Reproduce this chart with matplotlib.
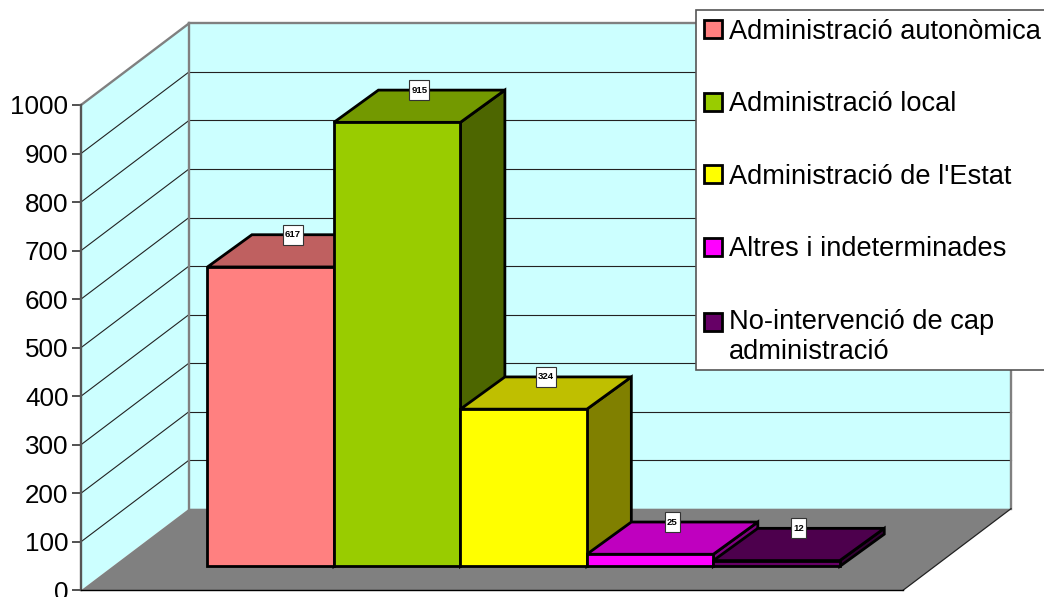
import matplotlib
matplotlib.use("Agg")
import matplotlib.pyplot as plt
from matplotlib.patches import Patch, Rectangle
from matplotlib.legend_handler import HandlerPatch
from matplotlib.path import Path

plt.rcParams['font.family'] = ['Liberation Sans', 'DejaVu Sans']

# ---- data ----
series = ["Administració autonòmica", "Administració local", "Administració de l'Estat",
          "Altres i indeterminades", "No-intervenció de cap\nadministració"]
values = [617, 915, 324, 25, 12]
front_colors = ['#FF8080', '#99CC00', '#FFFF00', '#FF00FF', '#660066']
top_colors = ['#BF6060', '#739900', '#BFBF00', '#BF00BF', '#4D004D']
side_colors = ['#804040', '#4D6600', '#808000', '#800080', '#330033']
yticks = list(range(0, 1001, 100))

# ---- layout (pixels of the 1044x597 picture) ----
W, H = 1044, 597
fig = plt.figure(figsize=(W / 100, H / 100), dpi=100, facecolor='white')
left, right, top, bottom = 81, 903, 105, 590.3
ax = fig.add_axes([left / W, 1 - bottom / H, (right - left) / W, (bottom - top) / H])
ax.patch.set_visible(False)

gap = 0.75
n = len(values)
ax.set_xlim(-gap, n + gap)
ax.set_ylim(0, 1000)
px_x = (right - left) / (n + 2 * gap)
px_y = (bottom - top) / 1000

# oblique projection: depth 0 = front of floor, depth 1 = back wall
DX = 108 / px_x
DY = 81.6 / px_y
D0, D1 = 0.293, 0.688
BAR_SKEW = 1.8 / px_x  # bar tops lean slightly further right than the walls


def P(x, y, d=0.0):
    return (x + d * DX, y + d * DY)


def PB(x, y, d):
    """Point on a bar: d is D0 (front) or D1 (back)."""
    sx = BAR_SKEW if d == D1 else 0
    return (x + d * DX + sx, y + d * DY)


def poly(points, fc, ec='none', lw=0, z=1):
    xs, ys = zip(*points)
    ax.fill(xs, ys, facecolor=fc, edgecolor=ec, linewidth=lw, zorder=z,
            clip_on=False, joinstyle='miter')


def line(p, q, c, lw, z=2):
    ax.plot([p[0], q[0]], [p[1], q[1]], color=c, lw=lw, zorder=z, clip_on=False,
            solid_capstyle='projecting')


xa, xb = -gap, n + gap
WALL = '#CCFFFF'
EDGE = '#808080'
GRID = '#222222'

# walls and floor
poly([P(xa, 0, 0), P(xa, 0, 1), P(xa, 1000, 1), P(xa, 1000, 0)], WALL, z=1)
poly([P(xa, 0, 1), P(xb, 0, 1), P(xb, 1000, 1), P(xa, 1000, 1)], WALL, z=1)
poly([P(xa, 0, 0), P(xb, 0, 0), P(xb, 0, 1), P(xa, 0, 1)], '#808080', z=1)

# gridlines
for v in yticks[1:-1]:
    line(P(xa, v, 0), P(xa, v, 1), GRID, 0.8)
    line(P(xa, v, 1), P(xb, v, 1), GRID, 0.8)

# wall outlines
line(P(xa, 1000, 0), P(xa, 1000, 1), EDGE, 1.7, 3)
line(P(xa, 1000, 1), P(xb, 1000, 1), EDGE, 1.7, 3)
line(P(xa, 0, 1), P(xa, 1000, 1), EDGE, 1.7, 3)
line(P(xb, 0, 1), P(xb, 1000, 1), EDGE, 1.7, 3)
line(P(xb, 0, 0), P(xb, 0, 1), '#222222', 0.9, 3)


# data label box: fixed 20 px tall, text centred
def label_box(x0, y0, width, height, mutation_size):
    cy = y0 + height / 2
    cx = x0 + width / 2
    hw = width / 2 + 2.0
    hh = 10.0
    verts = [(cx - hw, cy - hh), (cx + hw, cy - hh), (cx + hw, cy + hh), (cx - hw, cy + hh), (cx - hw, cy - hh)]
    return Path(verts, closed=True)


# bars
for i, (val, f, t, s) in enumerate(zip(values, front_colors, top_colors, side_colors)):
    z = 5 + i
    x0, x1 = i, i + 1
    poly([PB(x1, 0, D0), PB(x1, 0, D1), PB(x1, val, D1), PB(x1, val, D0)], s, 'black', 2, z)
    poly([PB(x0, val, D0), PB(x1, val, D0), PB(x1, val, D1), PB(x0, val, D1)], t, 'black', 2, z)
    poly([PB(x0, 0, D0), PB(x1, 0, D0), PB(x1, val, D0), PB(x0, val, D0)], f, 'black', 2, z)

for i, val in enumerate(values):
    lx, _ = P(i + 0.5 + BAR_SKEW / 2, val, (D0 + D1) / 2)
    _, ly = P(i + 0.5, val, D1)
    ax.text(lx, ly, str(val), ha='center', va='center', fontsize=6.8, fontweight='bold',
            color='black', zorder=20, clip_on=False,
            bbox=dict(boxstyle=label_box, fc='white', ec='#333333', lw=0.8))

# axis
ax.set_xticks([])
ax.set_yticks(yticks)
ax.tick_params(axis='y', length=6.5, width=1.2, color='#333333', labelsize=18.7, pad=2.5)
for name in ('top', 'right'):
    ax.spines[name].set_visible(False)
ax.spines['left'].set_color('#555555')
ax.spines['left'].set_linewidth(1.7)
ax.spines['bottom'].set_color('black')
ax.spines['bottom'].set_linewidth(1.0)
ax.spines['left'].set_zorder(4)
ax.spines['bottom'].set_zorder(4)


# legend: the two-line entry keeps its swatch beside the first line
def first_line_patch(legend, orig_handle, xdescent, ydescent, width, height, fontsize):
    lift = 0.55 * fontsize if '\n' in series[handles.index(orig_handle)] else 0
    return Rectangle((-xdescent, -ydescent + lift), width, height)


# legend frame, running off the right edge of the picture
ax.add_patch(Rectangle((695.5 / W, 1 - 370 / H), 360 / W, 360 / H, transform=fig.transFigure,
                       facecolor='white', edgecolor='#555555', linewidth=1.2,
                       clip_on=False, zorder=29))

handles = [Patch(facecolor=c, edgecolor='black', linewidth=2) for c in front_colors]
leg = ax.legend(handles, series, loc='upper left', bbox_to_anchor=(695.5 / W, 1 - 10 / H),
                bbox_transform=fig.transFigure, borderaxespad=0, fontsize=19.6,
                frameon=False,
                handlelength=0.65, handleheight=0.65, handletextpad=0.26,
                borderpad=0.32, labelspacing=1.71,
                handler_map={Patch: HandlerPatch(patch_func=first_line_patch)})
leg.set_zorder(30)

fig.savefig('out.png', dpi=100, facecolor='white')
